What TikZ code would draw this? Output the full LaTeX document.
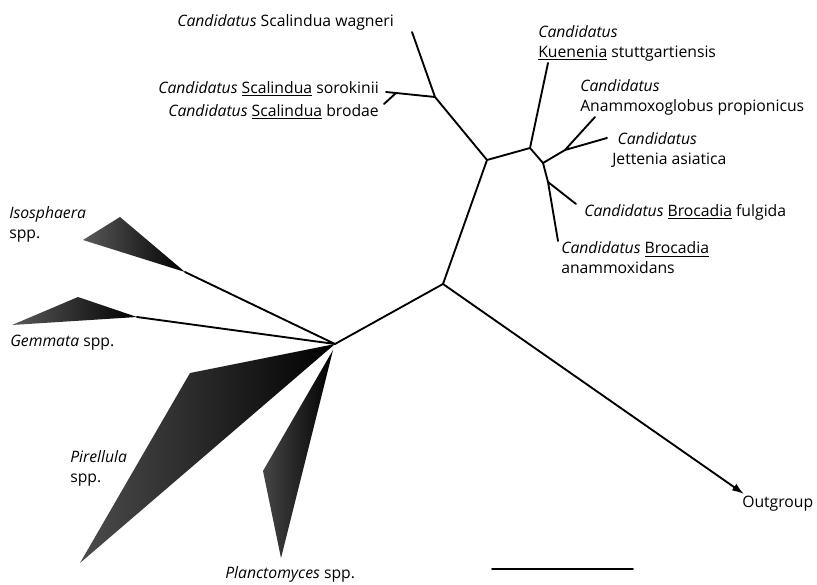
\documentclass[tikz,border=0pt]{standalone}
\usepackage{fontspec}
\setmainfont{Open Sans}
\usetikzlibrary{arrows.meta}

\begin{document}
\begin{tikzpicture}[x=0.75pt,y=-0.75pt]
    % `branch' is used for the edges of the tree.
    % `clade' is used for the collapsed groups (shaded wedges).
    % `taxon' is used for the leaf labels.
    \tikzstyle{branch} = [line width=1.4pt,line cap=round,line join=round]
    \tikzstyle{clade} = [left color=gray!70!black,right color=black]
    \tikzstyle{taxon} = [inner sep=0pt,align=left,font=\fontsize{11.8}{15}\selectfont]
    \useasboundingbox (0,0) rectangle (817,585);
    %
    % inner nodes
    \coordinate (root) at (335,344);
    \coordinate (anam) at (443,284);
    \coordinate (split) at (487,160);
    \coordinate (scal) at (435,97);
    \coordinate (sb) at (396,93);
    \coordinate (kb) at (530,148);
    \coordinate (jb) at (543,163);
    \coordinate (ja) at (565,150);
    \coordinate (br) at (548,182);
    % tips
    \coordinate (wag) at (412,32);
    \coordinate (sor) at (386,92);
    \coordinate (bro) at (384,104);
    \coordinate (kue) at (548,63);
    \coordinate (amx) at (595,117);
    \coordinate (jet) at (607,138);
    \coordinate (ful) at (576,204);
    \coordinate (ana) at (558,241);
    \coordinate (out) at (744,494);
    \coordinate (iso) at (185,272);
    \coordinate (gem) at (137,317);
    %
    % Draw the collapsed groups.
    \shade[clade] (iso) -- (120,217) -- (83,240) -- cycle;
    \shade[clade] (gem) -- (78,297) -- (12,325) -- cycle;
    \shade[clade,left color=gray!60!black] (root) -- (190,373) -- (80,563) -- cycle;
    \shade[clade,left color=gray!55!black] (333,350) -- (263,471) -- (281,558) -- cycle;
    %
    % Draw the branches.
    \draw[branch] (root) -- (iso)   (root) -- (gem)   (root) -- (anam);
    \draw[branch,-{Latex[length=9pt,width=6pt]}] (anam) -- (out);
    \draw[branch] (anam) -- (split) -- (scal) -- (wag)   (scal) -- (sb) -- (sor)   (sb) -- (bro);
    \draw[branch] (split) -- (kb) -- (kue)   (kb) -- (jb) -- (ja) -- (amx)   (ja) -- (jet);
    \draw[branch] (jb) -- (br) -- (ful)   (br) -- (ana);
    %
    % Labels.
    \node[taxon,anchor=west] (lwag) at (177,22) {\textit{Candidatus} Scalindua wagneri};
    \node[taxon,anchor=east] (lsor) at (379,89) {\textit{Candidatus} \underline{Scalindua} sorokinii};
    \node[taxon,anchor=east] (lbro) at (379,112) {\textit{Candidatus} \underline{Scalindua} brodae};
    \node[taxon,anchor=west] (lkue) at (538,43) {\textit{Candidatus}\\\underline{Kuenenia} stuttgartiensis};
    \node[taxon,anchor=west] (lamx) at (580,97) {\textit{Candidatus}\\Anammoxoglobus propionicus};
    \node[taxon,anchor=west] (ljet) at (612,150) {\hspace{4pt}\textit{Candidatus}\\Jettenia asiatica};
    \node[taxon,anchor=west] (lful) at (584,212) {\textit{Candidatus} \underline{Brocadia} fulgida};
    \node[taxon,anchor=west] (lana) at (561,258) {\textit{Candidatus} \underline{Brocadia}\\anammoxidans};
    \node[taxon,anchor=west] (liso) at (9,224) {\textit{Isosphaera}\\spp.};
    \node[taxon,anchor=west] (lgem) at (10,343) {\textit{Gemmata} spp.};
    \node[taxon,anchor=west] (lpir) at (70,468) {\textit{Pirellula}\\spp.};
    \node[taxon,anchor=west] (lpla) at (225,574) {\textit{Planctomyces} spp.};
    \node[taxon,anchor=west] (lout) at (742,504) {Outgroup};
    %
    % Scale bar.
    \coordinate (bar0) at (492,569);
    \coordinate (bar1) at (633,569);
    \draw[branch] (bar0) -- (bar1);
\end{tikzpicture}
\end{document}
